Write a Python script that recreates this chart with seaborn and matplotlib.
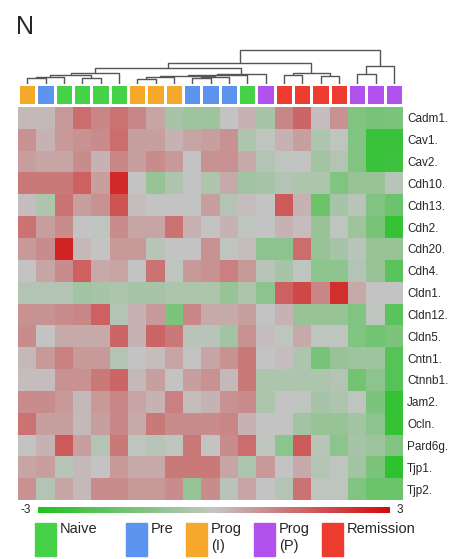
import numpy as np
import pandas as pd
import matplotlib
matplotlib.use('Agg')
import matplotlib.pyplot as plt
import seaborn as sns
from matplotlib.colors import LinearSegmentedColormap, ListedColormap
from matplotlib.patches import Rectangle

# --- data ---
genes = ['Cadm1.', 'Cav1.', 'Cav2.', 'Cdh10.', 'Cdh13.', 'Cdh2.', 'Cdh20.', 'Cdh4.',
         'Cldn1.', 'Cldn12.', 'Cldn5.', 'Cntn1.', 'Ctnnb1.', 'Jam2.', 'Ocln.',
         'Pard6g.', 'Tjp1.', 'Tjp2.']

group_names = ['Naive', 'Pre', 'Prog (I)', 'Prog (P)', 'Remission']
group_colors = ['#46d246', '#5b93ee', '#f5a82a', '#b152ef', '#ee3b2f']

sample_groups = ['Prog (I)', 'Pre', 'Naive', 'Naive', 'Naive', 'Naive',
                 'Prog (I)', 'Prog (I)', 'Prog (I)', 'Pre', 'Pre', 'Pre',
                 'Naive', 'Prog (P)', 'Remission', 'Remission', 'Remission',
                 'Remission', 'Prog (P)', 'Prog (P)', 'Prog (P)']

# z-scores, one list per gene (21 samples)
cadm1 = [0.2, 0.2, 0.7, 1.4, 1.0, 1.3, 1.0, 0.5, -0.5, -0.7, -0.7, 0.0, 0.3, -0.5, 1.0, 1.5, 0.1, 0.8, -1.2, -1.4, -1.3]
cav1 = [0.8, 0.3, 0.7, 0.8, 0.9, 1.4, 0.6, 0.6, 0.3, 0.5, 0.6, 0.8, -0.4, -0.1, 0.3, 0.6, -0.4, -0.1, -1.2, -2.5, -2.5]
cav2 = [0.6, 0.5, 0.5, 0.9, 0.3, 1.0, 0.6, 0.9, 0.7, 0.0, 0.8, 0.8, 0.4, -0.3, -0.1, 0.0, -0.6, -0.3, -1.2, -2.5, -2.4]
cdh10 = [1.2, 1.2, 1.2, 1.6, 0.6, 2.5, 0.0, -0.8, -0.4, 0.0, -0.4, 0.4, -0.6, -0.5, -0.3, -0.4, -0.4, -1.2, -0.8, -0.8, -0.2]
cdh13 = [0.1, -0.4, 1.3, 0.6, 0.8, 1.8, 0.1, 0.0, 0.0, 0.0, 0.6, -0.3, 0.1, 0.0, 1.7, 0.3, -1.6, -0.5, -0.2, -1.2, -1.6]
cdh2 = [1.3, 0.6, 0.9, 0.0, -0.1, 0.9, 0.5, 0.5, 1.3, 0.3, 0.0, 0.3, -0.1, 0.0, 0.3, 0.1, -0.8, -0.1, -0.7, -1.4, -2.6]
cdh20 = [0.7, 0.9, 2.6, 0.2, 0.0, 0.7, 0.7, -0.2, 0.0, 0.0, 0.8, -0.1, 0.1, -1.0, -1.0, 1.4, -0.8, -0.5, -0.2, -0.8, -0.8]
cdh4 = [0.0, 0.5, 0.9, 1.6, 0.4, 0.5, 0.0, 1.3, -0.1, 0.7, 0.8, 1.1, 0.7, -0.2, -0.5, -0.1, -1.0, -1.0, -0.3, -0.8, -1.9]
cldn1 = [-0.3, -0.3, -0.3, -0.6, -0.5, -0.4, -0.5, -0.5, -0.4, -0.4, -0.4, -0.8, -0.4, -1.0, 1.6, 2.0, 1.0, 2.4, 0.4, 0.0, 0.0]
cldn12 = [0.8, 0.8, 0.9, 1.0, 1.6, -0.3, 0.3, 0.7, -1.3, 1.0, 0.4, 0.4, 0.6, 0.0, 0.3, -0.8, -0.8, -0.8, -1.2, -0.1, -1.9]
cldn5 = [0.9, 0.0, 0.4, 0.4, 0.4, 1.5, 0.3, 1.5, 1.2, -0.2, -0.2, -0.6, 0.8, 0.1, -0.1, 0.4, -0.1, -0.1, -1.2, -1.5, -1.3]
cntn1 = [0.2, 0.7, 1.1, 0.7, 0.7, -0.3, 0.0, 0.1, 0.5, 0.0, 0.5, 0.8, 1.2, 0.0, 0.1, -0.4, -1.4, -0.8, -0.7, -0.7, -2.0]
ctnnb1 = [0.1, 0.1, 0.8, 0.8, 1.2, 1.5, 0.2, 0.6, 0.0, 0.6, 0.8, 0.2, 1.2, -0.4, -0.4, -0.4, -0.4, -0.3, -1.5, -1.0, -2.0]
jam2 = [0.9, 0.9, 0.7, 0.2, 0.7, 1.0, 0.5, 0.3, 1.1, 0.1, 0.3, 0.8, 0.9, -0.4, 0.0, -0.1, -0.5, -0.4, -0.1, -1.3, -2.6]
ocln = [1.3, 0.6, 0.6, 0.2, 0.6, 1.0, 0.4, 1.2, 0.9, 0.9, 0.9, 1.0, 0.3, 0.0, 0.0, -0.6, -0.8, -0.8, -0.6, -1.0, -2.6]
pard6g = [0.0, 0.3, 1.7, 0.6, -0.3, 1.2, -0.1, -0.2, -0.1, 1.2, 0.0, 0.9, 1.4, -0.1, -1.0, 1.7, -0.2, -1.0, -0.5, -0.7, -1.2]
tjp1 = [0.5, 0.6, -0.2, 0.2, 0.0, 0.7, 0.4, 0.4, 1.2, 1.2, 1.2, 0.5, -0.4, 0.7, 0.0, 0.4, -0.3, -0.1, -0.6, -1.3, -2.7]
tjp2 = [0.8, -0.3, 0.5, 0.2, 0.9, 0.9, 0.7, 0.7, 0.9, -0.8, 0.9, -0.2, 0.5, 0.0, -0.3, 1.3, -0.1, -0.1, -1.2, -1.6, -1.6]

expr = pd.DataFrame([cadm1, cav1, cav2, cdh10, cdh13, cdh2, cdh20, cdh4, cldn1,
                     cldn12, cldn5, cntn1, ctnnb1, jam2, ocln, pard6g, tjp1, tjp2],
                    index=genes)

# sample tree: (child a, child b, merge height); new nodes numbered from 21
linkage = [(0, 1, 5.3), (21, 2, 7.0), (3, 4, 5.5), (22, 23, 8.7), (24, 5, 10.3),
           (6, 7, 5.0), (26, 8, 6.5), (9, 10, 5.5), (28, 11, 7.0), (27, 29, 8.0),
           (30, 12, 8.8), (31, 13, 9.7), (25, 32, 15.7), (14, 15, 9.0),
           (16, 17, 7.5), (34, 35, 11.0), (33, 36, 20.3), (18, 19, 9.2),
           (38, 20, 18.0), (37, 39, 34.0)]

# --- figure ---
sns.set_style('white')
plt.rcParams['font.family'] = ['Liberation Sans', 'DejaVu Sans']

W, H = 455, 559
fig = plt.figure(figsize=(W / 100, H / 100), dpi=100)


def px_axes(x0, y0, x1, y1):
    return fig.add_axes([x0 / W, 1 - y1 / H, (x1 - x0) / W, (y1 - y0) / H])


n = len(sample_groups)

# dendrogram
ax_d = px_axes(18, 48, 403, 84)
pos = {i: i + 0.5 for i in range(n)}
hgt = {i: 0.0 for i in range(n)}
for k, (a, b, h) in enumerate(linkage):
    ax_d.plot([pos[a], pos[a], pos[b], pos[b]], [hgt[a], h, h, hgt[b]],
              color='#555555', lw=1.0, solid_capstyle='butt')
    pos[n + k] = (pos[a] + pos[b]) / 2
    hgt[n + k] = h
ax_d.set_xlim(0, n)
ax_d.set_ylim(-0.5, 36)
ax_d.axis('off')

# group colour strip
ax_g = px_axes(18, 84, 403, 105)
codes = np.array([[group_names.index(g) for g in sample_groups]])
sns.heatmap(codes, ax=ax_g, cmap=ListedColormap(group_colors), vmin=-0.5, vmax=4.5,
            cbar=False, linewidths=1.0, linecolor='white', xticklabels=False,
            yticklabels=False)

# main heatmap
cmap = LinearSegmentedColormap.from_list('gr', ['#1fc21f', '#c4c4c4', '#d40a0a'])
ax_h = px_axes(18, 107, 403, 500)
sns.heatmap(expr, ax=ax_h, cmap=cmap, vmin=-3, vmax=3, cbar=False,
            xticklabels=False, yticklabels=True)
ax_h.yaxis.tick_right()
ax_h.tick_params(axis='y', length=0, pad=3, labelsize=8.5, labelrotation=0)

# colour scale
ax_c = px_axes(38, 507, 390, 513)
cb = fig.colorbar(ax_h.collections[0], cax=ax_c, orientation='horizontal')
cb.outline.set_visible(False)
cb.set_ticks([])
fig.text(31 / W, 1 - 510 / H, '-3', ha='right', va='center', fontsize=8.5)
fig.text(397 / W, 1 - 510 / H, '3', ha='left', va='center', fontsize=8.5)

# legend
legend_x = [35, 126, 186, 254, 322]
for name, col, x in zip(group_names, group_colors, legend_x):
    fig.patches.append(Rectangle((x / W, 1 - 556 / H), 21 / W, 33 / H,
                                 transform=fig.transFigure, color=col))
    fig.text((x + 25) / W, 1 - 522 / H, name.replace(' ', '\n'), ha='left',
             va='top', fontsize=10.5, linespacing=1.25)

fig.text(16 / W, 1 - 34 / H, 'N', fontsize=18, ha='left', va='baseline')

fig.savefig('out.png', dpi=100)
